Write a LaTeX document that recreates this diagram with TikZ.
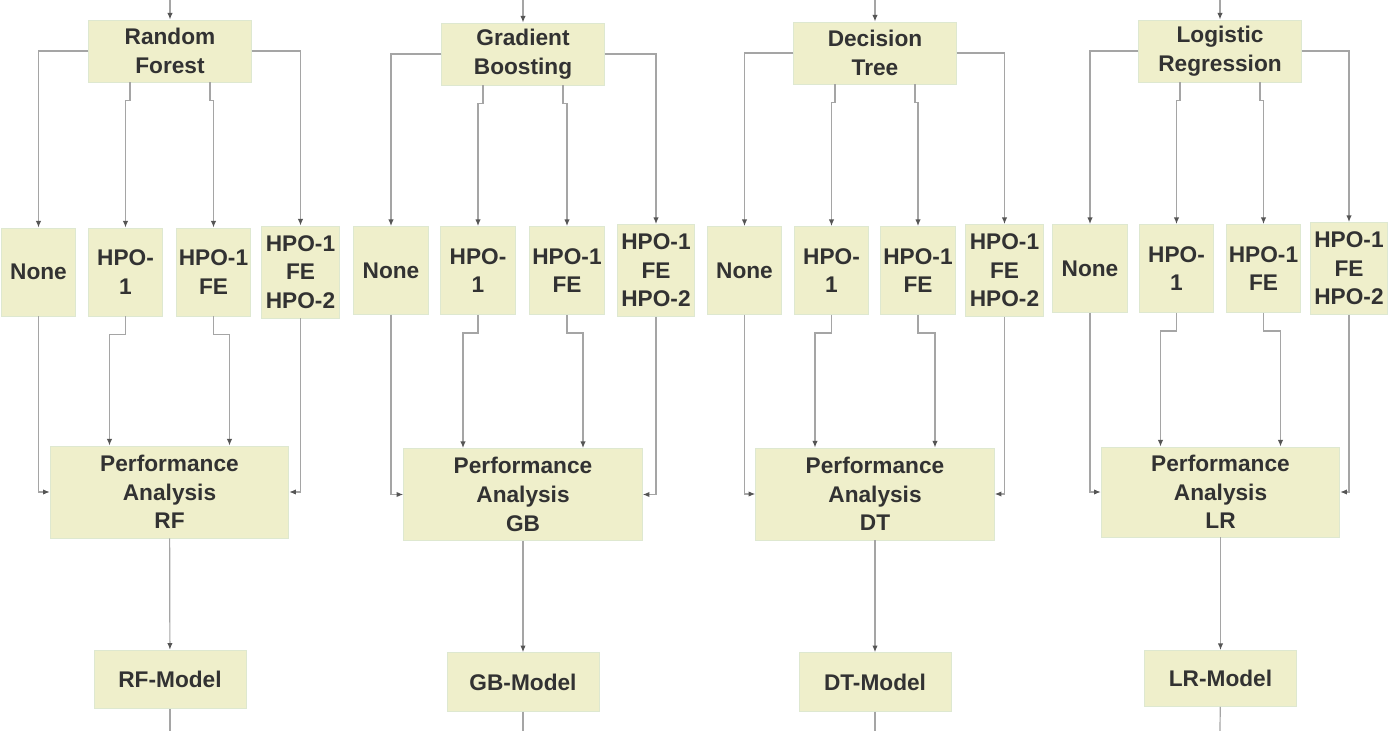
\documentclass[tikz,border=0pt]{standalone}
\usepackage{fontspec}
\setmainfont{Liberation Sans}
\usetikzlibrary{arrows.meta,calc}

\definecolor{boxfill}{RGB}{239,239,203}
\definecolor{boxedge}{RGB}{222,232,208}
\definecolor{linkgray}{RGB}{165,165,165}
\definecolor{tipgray}{RGB}{85,85,85}
\definecolor{textgray}{RGB}{50,50,50}

\tikzset{
  box/.style={fill=boxfill, draw=boxedge, line width=0.6pt, inner sep=1pt,
    align=center, text=textgray, font=\fontsize{17}{21.5}\selectfont\bfseries},
  algobox/.style={box, minimum width=122pt, minimum height=46.5pt},
  stepbox/.style={box, minimum width=56pt, minimum height=66pt},
  allbox/.style={box, minimum width=58pt, minimum height=69pt},
  pabox/.style={box, minimum width=179pt, minimum height=69pt},
  modelbox/.style={box, minimum width=114pt, minimum height=44pt},
  line/.style={draw=linkgray, line width=0.9pt},
  link/.style={line, -{Latex[length=5pt,width=4pt,color=tipgray]}}
}

\begin{document}
\begin{tikzpicture}[x=0.75pt,y=0.75pt,yscale=-1,xscale=1]
\useasboundingbox (0,0) rectangle (1392,731);

%Column: Random Forest
\coordinate (rfin) at (170,0);
\coordinate (rfout) at (170,731);
\draw (170,51) node [algobox] (rf) {Random\\Forest};
\draw (38.5,272) node [stepbox,minimum width=55pt] (rfnone) {None};
\draw (125.5,272) node [stepbox] (rfhpo) {HPO-\\1};
\draw (213.5,272) node [stepbox] (rffe) {HPO-1\\FE};
\draw (300.5,272) node [allbox] (rfall) {HPO-1\\FE\\HPO-2};
\draw (169.5,492) node [pabox] (rfpa) {Performance\\Analysis\\RF};
\draw (170,679.5) node [modelbox] (rfmodel) {RF-Model};

\draw [link] (rfin) -- (rf);
\draw [link] (rf.west) -| (rfnone.north);
\draw [link] (rf.east) -| (rfall.north);
\draw [link] ($(rf.south)+(-40,0)$) -- ++(0,18) -| (rfhpo.north);
\draw [link] ($(rf.south)+(40,0)$) -- ++(0,18) -| (rffe.north);
\draw [link] (rfnone.south) |- (rfpa.west);
\draw [link] (rfall.south) |- (rfpa.east);
\draw [link] (rfhpo.south) -- ++(0,18) -| ($(rfpa.north)+(-60,0)$);
\draw [link] (rffe.south) -- ++(0,18) -| ($(rfpa.north)+(60,0)$);
\draw [link] (rfpa) -- (rfmodel);
\draw [line] (rfmodel) -- (rfout);

%Column: Gradient Boosting
\coordinate (gbin) at (523,0);
\coordinate (gbout) at (523,731);
\draw (523,54) node [algobox] (gb) {Gradient\\Boosting};
\draw (391,270.5) node [stepbox] (gbnone) {None};
\draw (478,270.5) node [stepbox] (gbhpo) {HPO-\\1};
\draw (567,270.5) node [stepbox] (gbfe) {HPO-1\\FE};
\draw (656,270.5) node [allbox] (gball) {HPO-1\\FE\\HPO-2};
\draw (523,494.5) node [pabox] (gbpa) {Performance\\Analysis\\GB};
\draw (523,682) node [modelbox] (gbmodel) {GB-Model};

\draw [link] (gbin) -- (gb);
\draw [link] (gb.west) -| (gbnone.north);
\draw [link] (gb.east) -| (gball.north);
\draw [link] ($(gb.south)+(-40,0)$) -- ++(0,18) -| (gbhpo.north);
\draw [link] ($(gb.south)+(40,0)$) -- ++(0,18) -| (gbfe.north);
\draw [link] (gbnone.south) |- (gbpa.west);
\draw [link] (gball.south) |- (gbpa.east);
\draw [link] (gbhpo.south) -- ++(0,18) -| ($(gbpa.north)+(-60,0)$);
\draw [link] (gbfe.south) -- ++(0,18) -| ($(gbpa.north)+(60,0)$);
\draw [link] (gbpa) -- (gbmodel);
\draw [line] (gbmodel) -- (gbout);

%Column: Decision Tree
\coordinate (dtin) at (875,0);
\coordinate (dtout) at (875,731);
\draw (875,53) node [algobox] (dt) {Decision\\Tree};
\draw (744.5,270.5) node [stepbox] (dtnone) {None};
\draw (831.5,270.5) node [stepbox] (dthpo) {HPO-\\1};
\draw (918,270.5) node [stepbox] (dtfe) {HPO-1\\FE};
\draw (1004.5,270.5) node [allbox] (dtall) {HPO-1\\FE\\HPO-2};
\draw (875,494) node [pabox] (dtpa) {Performance\\Analysis\\DT};
\draw (875,682) node [modelbox] (dtmodel) {DT-Model};

\draw [link] (dtin) -- (dt);
\draw [link] (dt.west) -| (dtnone.north);
\draw [link] (dt.east) -| (dtall.north);
\draw [link] ($(dt.south)+(-40,0)$) -- ++(0,18) -| (dthpo.north);
\draw [link] ($(dt.south)+(40,0)$) -- ++(0,18) -| (dtfe.north);
\draw [link] (dtnone.south) |- (dtpa.west);
\draw [link] (dtall.south) |- (dtpa.east);
\draw [link] (dthpo.south) -- ++(0,18) -| ($(dtpa.north)+(-60,0)$);
\draw [link] (dtfe.south) -- ++(0,18) -| ($(dtpa.north)+(60,0)$);
\draw [link] (dtpa) -- (dtmodel);
\draw [line] (dtmodel) -- (dtout);

%Column: Logistic Regression
\coordinate (lrin) at (1220,0);
\coordinate (lrout) at (1220,731);
\draw (1220,51) node [algobox] (lr) {Logistic\\Regression};
\draw (1090,268.5) node [stepbox] (lrnone) {None};
\draw (1176.5,268.5) node [stepbox] (lrhpo) {HPO-\\1};
\draw (1263.5,268.5) node [stepbox] (lrfe) {HPO-1\\FE};
\draw (1349,268.5) node [allbox] (lrall) {HPO-1\\FE\\HPO-2};
\draw (1220.5,492) node [pabox,minimum height=67.5pt] (lrpa) {Performance\\Analysis\\LR};
\draw (1220.5,678.5) node [modelbox,minimum height=42pt] (lrmodel) {LR-Model};

\draw [link] (lrin) -- (lr);
\draw [link] (lr.west) -| (lrnone.north);
\draw [link] (lr.east) -| (lrall.north);
\draw [link] ($(lr.south)+(-40,0)$) -- ++(0,18) -| (lrhpo.north);
\draw [link] ($(lr.south)+(40,0)$) -- ++(0,18) -| (lrfe.north);
\draw [link] (lrnone.south) |- (lrpa.west);
\draw [link] (lrall.south) |- (lrpa.east);
\draw [link] (lrhpo.south) -- ++(0,18) -| ($(lrpa.north)+(-60,0)$);
\draw [link] (lrfe.south) -- ++(0,18) -| ($(lrpa.north)+(60,0)$);
\draw [link] (lrpa) -- (lrmodel);
\draw [line] (lrmodel) -- (lrout);

\end{tikzpicture}
\end{document}
